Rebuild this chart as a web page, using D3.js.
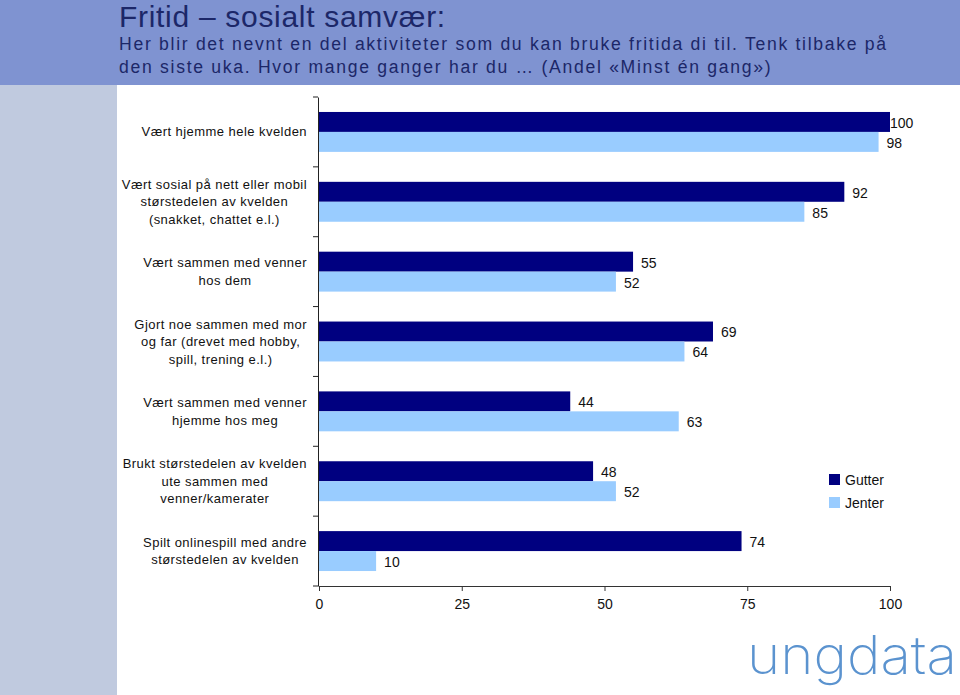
<!DOCTYPE html>
<html><head><meta charset="utf-8">
<script src="https://cdn.jsdelivr.net/npm/d3@7"></script>
<style>
html,body{margin:0;padding:0;background:#fff;}
svg{display:block;font-family:"Liberation Sans",Arial,sans-serif;}
</style></head>
<body>
<svg id="chart" width="960" height="695"></svg>
<script>
const title = "Fritid \u2013 sosialt samvær:";
const subtitleLines = [
  "Her blir det nevnt en del aktiviteter som du kan bruke fritida di til. Tenk tilbake på",
  "den siste uka. Hvor mange ganger har du \u2026 (Andel «Minst én gang»)"
];
const categories = [
  ["Vært hjemme hele kvelden"],
  ["Vært sosial på nett eller mobil", "størstedelen av kvelden", "(snakket, chattet e.l.)"],
  ["Vært sammen med venner", "hos dem"],
  ["Gjort noe sammen med mor", "og far (drevet med hobby,", "spill, trening e.l.)"],
  ["Vært sammen med venner", "hjemme hos meg"],
  ["Brukt størstedelen av kvelden", "ute sammen med", "venner/kamerater"],
  ["Spilt onlinespill med andre", "størstedelen av kvelden"]
];
const seriesNames = ["Gutter", "Jenter"];
const gutter = [100, 92, 55, 69, 44, 48, 74];
const jenter = [98, 85, 52, 64, 63, 52, 10];
const xTicks = [0, 25, 50, 75, 100];
const colors = ["#000080", "#99ccff"];

const svg = d3.select("#chart");
// background panels
svg.append("rect").attr("x",0).attr("y",0).attr("width",960).attr("height",85).attr("fill","#7f93d1");
svg.append("rect").attr("x",0).attr("y",85).attr("width",117).attr("height",610).attr("fill","#c0cadf");

svg.append("text").attr("x",119).attr("y",27).attr("font-size",30).attr("letter-spacing","0.7px").attr("fill","#1c2768").text(title);
subtitleLines.forEach((s,i)=>{
  svg.append("text").attr("x",119).attr("y",50+i*22.5).attr("font-size",17.6).attr("letter-spacing","1.7px").attr("fill","#1c2768").text(s);
});

const x = d3.scaleLinear().domain([0,100]).range([319,890]);
const idx = d3.range(categories.length);
const y = d3.scaleBand().domain(idx).range([97,586]).paddingInner(0).paddingOuter(0);
const inner = d3.scaleBand().domain([0,1]).range([0,y.bandwidth()]).paddingInner(0).paddingOuter(0.75);

const g = svg.append("g");
const series = [gutter, jenter];
series.forEach((vals, s)=>{
  g.selectAll(null).data(idx).enter().append("rect")
    .attr("x", x(0)).attr("y", d=>y(d)+inner(s)).attr("width", d=>x(vals[d])-x(0))
    .attr("height", inner.bandwidth()).attr("fill", colors[s]);
  g.selectAll(null).data(idx).enter().append("text")
    .attr("x", d=>x(vals[d])+ (vals[d]===100? 0 : 8)).attr("y", d=>y(d)+inner(s)+inner.bandwidth()/2 + 1)
    .attr("dy","0.35em").attr("font-size",14).attr("fill","#111").text(d=>vals[d]);
});

// y axis
const yAxis = d3.axisLeft(y).tickValues([]).tickSizeOuter(0);
const ya = svg.append("g").attr("transform",`translate(${x(0)-1},0)`).call(yAxis);
ya.select(".domain").attr("stroke","#222");
// band boundary ticks
const bounds = idx.map(d=>y(d)).concat([586]);
svg.selectAll(null).data(bounds).enter().append("line")
  .attr("x1",x(0)-6).attr("x2",x(0)-1).attr("y1",d=>d).attr("y2",d=>d).attr("stroke","#222");

// x axis
const xAxis = d3.axisBottom(x).tickValues(xTicks).tickSize(5).tickSizeOuter(0).tickPadding(8);
const xa = svg.append("g").attr("transform","translate(0,586)").call(xAxis);
xa.select(".domain").attr("stroke","#333");
xa.selectAll("line").attr("stroke","#333");
xa.selectAll("text").attr("font-size",14).attr("fill","#111").attr("font-family","Liberation Sans, Arial, sans-serif");

// category labels
idx.forEach(i=>{
  const lines = categories[i];
  const lh = 17.5;
  const cy = y(i)+y.bandwidth()/2;
  const t = svg.append("text").attr("font-size",13).attr("fill","#111").attr("letter-spacing","0.45px");
  lines.forEach((l,j)=>{
    t.append("tspan").attr("y", cy + (j-(lines.length-1)/2)*lh).attr("dy","0.35em").text(l);
  });
  let maxW = 0;
  t.selectAll("tspan").each(function(){ maxW = Math.max(maxW, this.getComputedTextLength()); });
  const cx = 307 - maxW/2;
  t.attr("text-anchor","middle").selectAll("tspan").attr("x", cx);
});

// legend
seriesNames.forEach((n,i)=>{
  svg.append("rect").attr("x",829).attr("y",474+i*23).attr("width",11).attr("height",11).attr("fill",colors[i]);
  svg.append("text").attr("x",845).attr("y",480+i*23).attr("dy","0.35em").attr("font-size",14).attr("fill","#111").text(n);
});

// logo
svg.append("text").attr("x",747).attr("y",674).attr("font-size",53).attr("font-family","Inter, 'DejaVu Sans', sans-serif")
  .attr("font-weight",200).attr("fill","#5b93cf")
  .attr("textLength",210).attr("lengthAdjust","spacingAndGlyphs").text("ungdata");
</script>
</body></html>
